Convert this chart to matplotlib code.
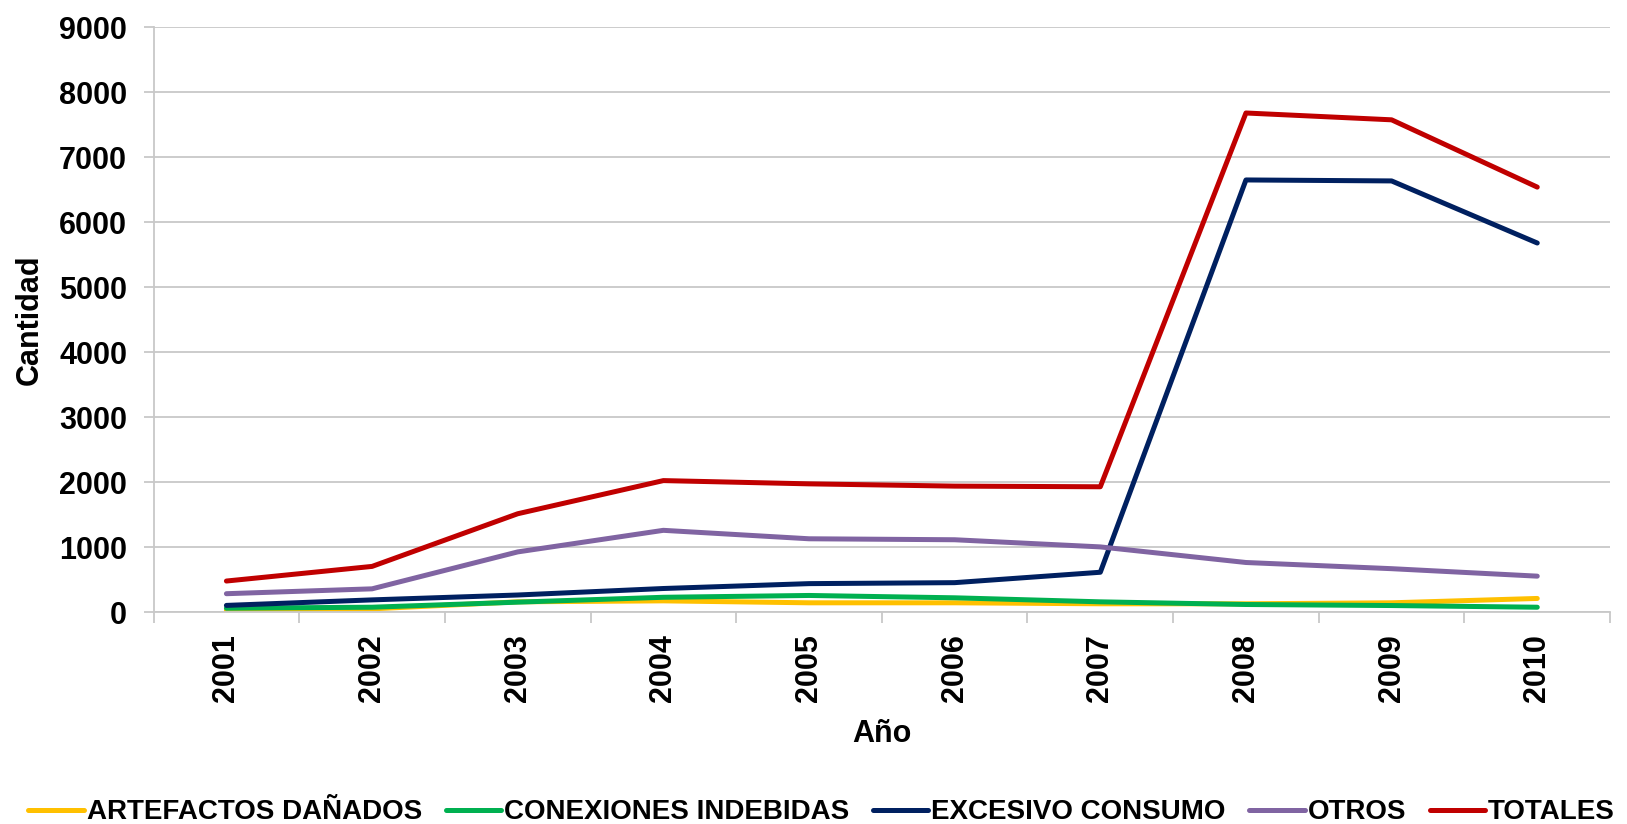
import numpy as np
import matplotlib
matplotlib.use("Agg")
from matplotlib import pyplot as plt

plt.rcParams['font.family'] = ['Liberation Sans', 'DejaVu Sans']
plt.rcParams['font.weight'] = 'bold'

years = ['2001', '2002', '2003', '2004', '2005', '2006', '2007', '2008', '2009', '2010']
artefactos = [26, 52, 160, 175, 145, 145, 130, 130, 145, 212]
conexiones = [62, 77, 155, 230, 258, 222, 160, 119, 103, 77]
excesivo = [105, 190, 265, 365, 440, 455, 615, 6650, 6635, 5680]
otros = [285, 360, 928, 1260, 1130, 1115, 1005, 765, 670, 555]
totales = [480, 705, 1515, 2025, 1975, 1940, 1930, 7680, 7575, 6540]

series = [
    ('ARTEFACTOS DAÑADOS', artefactos, '#FFC000'),
    ('CONEXIONES INDEBIDAS', conexiones, '#00B050'),
    ('EXCESIVO CONSUMO', excesivo, '#002060'),
    ('OTROS', otros, '#8064A2'),
    ('TOTALES', totales, '#C00000'),
]

fig = plt.figure(figsize=(16.27, 8.24), dpi=100)
ax = fig.add_axes([0.0944, 0.257, 0.8952, 0.71])

x = np.arange(len(years))
for name, vals, col in series:
    ax.plot(x, vals, color=col, lw=3.6, label=name, solid_capstyle='round')

grey = '#c8c8c8'
ax.set_xlim(-0.5, len(years) - 0.5)
ax.set_ylim(0, 9000)
ax.set_yticks(range(0, 9001, 1000))
ax.yaxis.grid(True, color=grey, lw=1.3)
ax.set_axisbelow(True)

ax.set_xticks(x)
ax.set_xticklabels(years, rotation=90)
ax.set_xticks(np.arange(-0.5, len(years)), minor=True)
ax.tick_params(axis='x', which='major', length=0, pad=16, labelsize=22)
ax.tick_params(axis='x', which='minor', length=8, width=1.3, color=grey)
ax.tick_params(axis='y', length=7, width=1.3, color=grey, pad=12, labelsize=22)

for s in ['top', 'right']:
    ax.spines[s].set_visible(False)
for s in ['left', 'bottom']:
    ax.spines[s].set_color(grey)
    ax.spines[s].set_linewidth(1.3)

ax.set_xlabel('Año', fontsize=22, fontweight='bold', labelpad=12)
ax.set_ylabel('Cantidad', fontsize=22, fontweight='bold', labelpad=10)

fig.legend(loc='lower center', bbox_to_anchor=(0.505, -0.032), ncol=5, frameon=False,
           fontsize=20, handlelength=2.0, handletextpad=0.1, columnspacing=0.85)

fig.savefig('out.png', dpi=100)
